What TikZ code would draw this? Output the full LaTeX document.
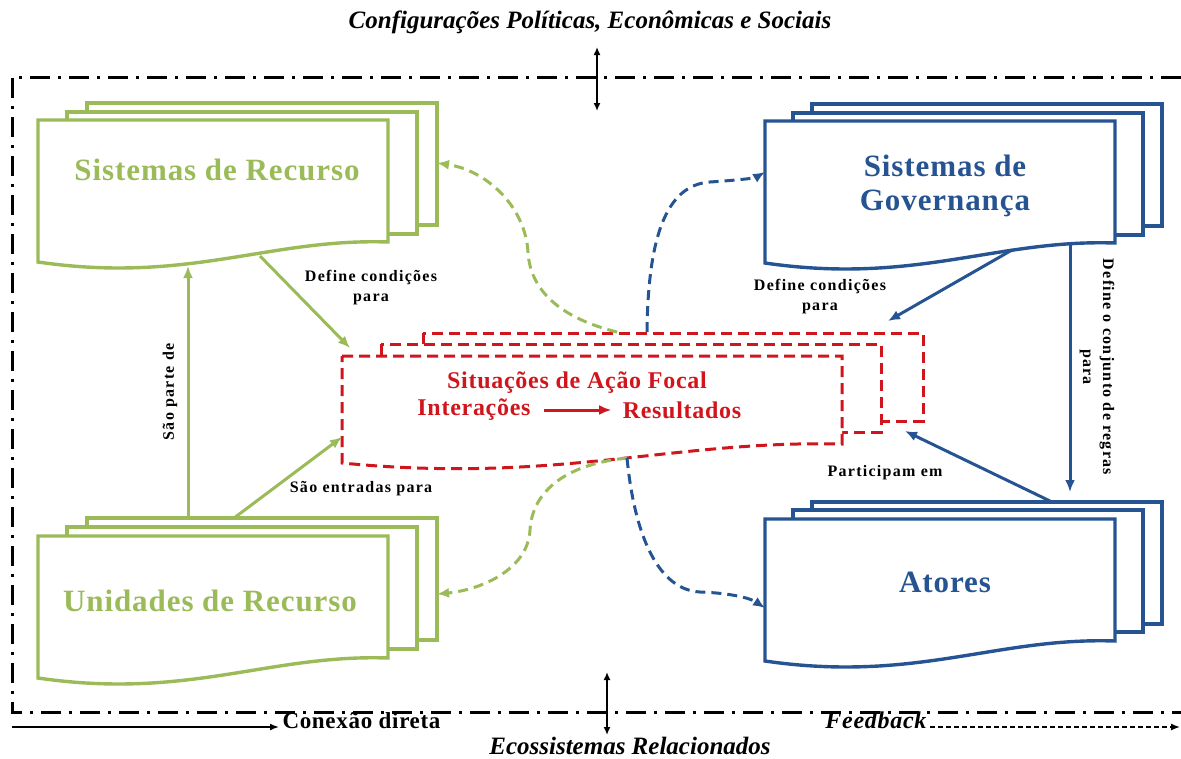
\documentclass[tikz,border=0pt]{standalone}
\usepackage{fontspec}
\setmainfont{Liberation Serif}
\newfontfamily\headfont[LetterSpace=3]{Liberation Serif}
\newfontfamily\lblfont[LetterSpace=8]{Liberation Serif}
\usetikzlibrary{positioning, arrows.meta}

\definecolor{recgreen}{RGB}{155,187,89}
\definecolor{govblue}{RGB}{38,84,146}
\definecolor{focred}{RGB}{208,22,28}

% three stacked document sheets, front one with a wavy bottom
% #1 style, #2 width, #3 height, #4/#5 shift of 2nd sheet, #6/#7 shift of 3rd sheet, #8 drop of the wave
\newcommand{\docstack}[8]{%
  \draw[#1] (#6,#7) rectangle ({#2+#6},{#3+#7});
  \draw[#1] (#4,#5) rectangle ({#2+#4},{#3+#5});
  \draw[#1] (0,0) -- (#2,0) -- (#2,#3)
    .. controls ({0.66*#2},{#3-4}) and ({0.43*#2},{#3+2.1*#8}) .. (0,{#3+#8}) -- cycle;
}

\begin{document}
\begin{tikzpicture}[x=1pt, y=-1pt, >={Latex[length=12pt, width=10pt]},
  frame/.style={line width=3pt, dash pattern=on 20pt off 8pt on 3pt off 8pt},
  recdoc/.style={draw=recgreen, line width=3.4pt, fill=white},
  govdoc/.style={draw=govblue, line width=3.4pt, fill=white},
  focdoc/.style={draw=focred, line width=3pt, dash pattern=on 11pt off 6pt, fill=white},
  big/.style={font=\headfont\bfseries\fontsize{31}{34}\selectfont, align=center},
  lbl/.style={font=\lblfont\bfseries\fontsize{16}{20}\selectfont, align=center},
  ext/.style={font=\bfseries\itshape\fontsize{25}{28}\selectfont},
  rec/.style={recgreen, line width=3pt, ->},
  gov/.style={govblue, line width=3pt, ->},
  fb/.style={dash pattern=on 10pt off 6pt}]
	\useasboundingbox (0,0) rectangle (1181,758);

	% outer border and the two contexts
	\draw[frame] (1181,77) -- (12,77) -- (12,712) -- (1181,712);
	\node[ext] (conf) at (590,22) {Configurações Políticas, Econômicas e Sociais};
	\node[ext] (eco) at (630,746) {Ecossistemas Relacionados};
	\coordinate (conf-a) at (597,47);
	\coordinate (conf-b) at (597,111);
	\coordinate (eco-a) at (607,672);
	\coordinate (eco-b) at (607,735);
	\draw[{Latex[length=8pt,width=7pt]}-{Latex[length=8pt,width=7pt]}, line width=1.8pt] (conf-a) -- (conf-b);
	\draw[{Latex[length=8pt,width=7pt]}-{Latex[length=8pt,width=7pt]}, line width=1.8pt] (eco-a) -- (eco-b);

	% legend
	\node[font=\headfont\bfseries\fontsize{23}{26}\selectfont, anchor=west] (direta) at (279,721) {Conexão direta};
	\node[font=\headfont\bfseries\itshape\fontsize{24}{26}\selectfont, anchor=east] (feedb) at (930,720) {Feedback};
	\coordinate (direta-s) at (12,727);
	\coordinate (feedb-e) at (1180,727);
	\draw[-{Latex[length=9pt,width=7pt]}, line width=1.6pt] (direta-s) -- (direta-s -| direta.west);
	\draw[-{Latex[length=9pt,width=7pt]}, line width=1.4pt, dash pattern=on 5pt off 3pt] (feedb.east |- feedb-e) -- (feedb-e);

	% the four stacks and the focal action situation
	\begin{scope}[shift={(38,120)}]
		\docstack{recdoc}{350}{122}{29}{-8}{49}{-17}{20}
	\end{scope}
	\begin{scope}[shift={(38,536)}]
		\docstack{recdoc}{350}{122}{29}{-9}{49}{-18}{20}
	\end{scope}
	\begin{scope}[shift={(765,121)}]
		\docstack{govdoc}{350}{122}{28}{-8}{47}{-17}{20}
	\end{scope}
	\begin{scope}[shift={(765,519)}]
		\docstack{govdoc}{350}{122}{28}{-9}{47}{-17}{20}
	\end{scope}
	\begin{scope}[shift={(342,356)}]
		\docstack{focdoc}{500}{88}{39}{-12}{81}{-23}{19}
	\end{scope}

	\node[big, recgreen] (sisrec) at (217,170) {Sistemas de Recurso};
	\node[big, recgreen] (unirec) at (210,601) {Unidades de Recurso};
	\node[big, govblue] (sisgov) at (945,186) {Sistemas de\\Governança};
	\node[big, govblue] (atores) at (945,582) {Atores};
	\node[focred, font=\headfont\bfseries\fontsize{24}{27}\selectfont] (focal) at (577,383) {Situações de Ação Focal};
	\node[focred, font=\headfont\bfseries\fontsize{24}{27}\selectfont] (inter) at (474,410) {Interações};
	\node[focred, font=\headfont\bfseries\fontsize{24}{27}\selectfont] (result) at (682,410) {Resultados};
	\draw[focred, line width=3pt, ->, shorten <=10pt, shorten >=8pt] (inter) -- (result);

	% connector ends on the sheets
	\coordinate (sisrec-a) at (188,266);
	\coordinate (sisrec-b) at (260,256);
	\coordinate (sisrec-c) at (437,163);
	\coordinate (unirec-a) at (188,518);
	\coordinate (unirec-b) at (234,518);
	\coordinate (unirec-c) at (437,594);
	\coordinate (sisgov-a) at (1012,250);
	\coordinate (sisgov-b) at (1070,242);
	\coordinate (sisgov-c) at (765,172);
	\coordinate (atores-a) at (1050,501);
	\coordinate (atores-b) at (1070,492);
	\coordinate (atores-c) at (765,608);
	\coordinate (focal-a) at (350,348);
	\coordinate (focal-b) at (342,437);
	\coordinate (focal-c) at (888,321);
	\coordinate (focal-d) at (905,431);
	\coordinate (focal-e) at (617,332);
	\coordinate (focal-f) at (647,332);
	\coordinate (focal-g) at (627,458);

	% direct connections
	\draw[rec] (unirec-a) -- node[lbl, black, rotate=90, left=6pt, anchor=south] {São parte de} (sisrec-a);
	\draw[rec] (sisrec-b) -- (focal-a);
	\node[lbl] (lbl-rec) at (371,288) {Define condições\\para};
	\draw[rec] (unirec-b) -- (focal-b);
	\node[lbl] (lbl-ent) at (361,489) {São entradas para};
	\draw[gov] (sisgov-a) -- (focal-c);
	\node[lbl] (lbl-gov) at (820,297) {Define condições\\para};
	\draw[gov] (atores-a) -- (focal-d);
	\node[lbl] (lbl-part) at (885,473) {Participam em};
	\draw[gov] (sisgov-b) -- (atores-b);
	\node[lbl, rotate=-90] (lbl-regras) at (1097,367) {Define o conjunto de regras\\para};

	% feedback
	\draw[rec, fb] (focal-e) .. controls (560,318) and (530,290) .. (528,252) .. controls (525,205) and (485,170) .. (sisrec-c);
	\draw[rec, fb] (focal-g) .. controls (560,465) and (532,495) .. (530,530) .. controls (528,570) and (480,590) .. (unirec-c);
	\draw[gov, fb] (focal-f) .. controls (648,240) and (665,185) .. (710,182) .. controls (740,180) and (755,178) .. (sisgov-c);
	\draw[gov, fb] (focal-g) .. controls (635,540) and (660,590) .. (700,592) .. controls (730,593) and (750,598) .. (atores-c);
\end{tikzpicture}
\end{document}
